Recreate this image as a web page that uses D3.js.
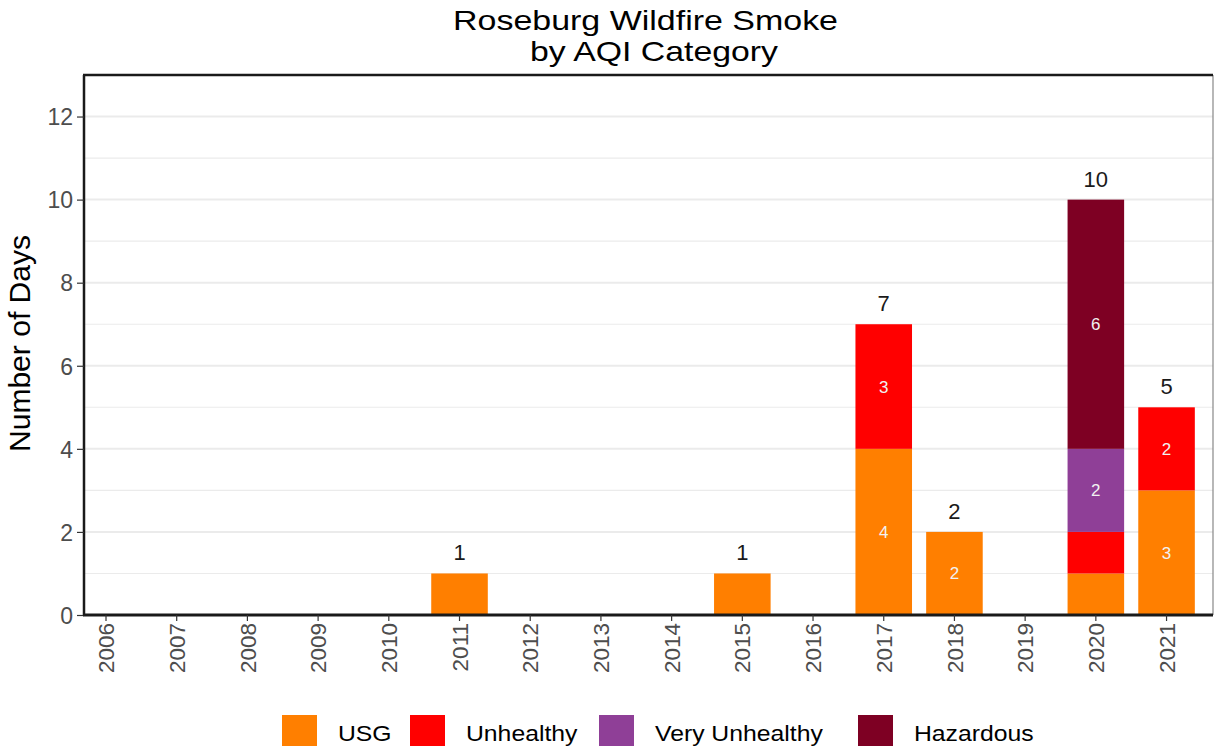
<!DOCTYPE html>
<html><head><meta charset="utf-8">
<script src="https://cdn.jsdelivr.net/npm/d3@7/dist/d3.min.js"></script>
<style>body{margin:0;background:#fff;} svg{display:block;font-family:"Liberation Sans",Arial,sans-serif;}</style>
</head><body>
<script>
const years = ["2006","2007","2008","2009","2010","2011","2012","2013","2014","2015","2016","2017","2018","2019","2020","2021"];
const categories = ["USG","Unhealthy","Very Unhealthy","Hazardous"];
const colors = ["#FF7F00","#FF0000","#8F3F97","#7E0023"];
const usg =           [0,0,0,0,0,1,0,0,0,1,0,4,2,0,1,3];
const unhealthy =     [0,0,0,0,0,0,0,0,0,0,0,3,0,0,1,2];
const veryUnhealthy = [0,0,0,0,0,0,0,0,0,0,0,0,0,0,2,0];
const hazardous =     [0,0,0,0,0,0,0,0,0,0,0,0,0,0,6,0];
const yTicks = [0,2,4,6,8,10,12];

(function(){
const W=1214,H=750;
const svg=d3.select("body").append("svg").attr("width",W).attr("height",H);
const pL=84,pR=1213,pT=75,pB=615;
const FF="Liberation Sans,Arial,sans-serif";
const x=d3.scaleBand().domain(years).range([70.65,1201.9]).paddingInner(0.2).paddingOuter(0.1);
const y=d3.scaleLinear().domain([0,13]).range([pB,pT]);

const table=years.map((yr,i)=>({year:yr,"USG":usg[i],"Unhealthy":unhealthy[i],"Very Unhealthy":veryUnhealthy[i],"Hazardous":hazardous[i]}));
const stack=d3.stack().keys(categories)(table);
const color=d3.scaleOrdinal().domain(categories).range(colors);
const total=d=>categories.reduce((s,k)=>s+d[k],0);

// grid
const g=svg.append("g");
d3.range(1,13,2).forEach(v=>g.append("line").attr("x1",pL).attr("x2",pR).attr("y1",y(v)).attr("y2",y(v)).attr("stroke","#ebebeb").attr("stroke-width",1.1));
yTicks.forEach(v=>g.append("line").attr("x1",pL).attr("x2",pR).attr("y1",y(v)).attr("y2",y(v)).attr("stroke","#ebebeb").attr("stroke-width",2));

// bars
stack.forEach(layer=>{
  svg.append("g").attr("fill",color(layer.key)).selectAll("rect").data(layer.filter(d=>d[1]-d[0]>0)).join("rect")
    .attr("x",d=>x(d.data.year)).attr("width",x.bandwidth())
    .attr("y",d=>y(d[1])).attr("height",d=>y(d[0])-y(d[1]));
});
stack.forEach(layer=>{
  svg.append("g").selectAll("text").data(layer.filter(d=>d[1]-d[0]>1)).join("text")
    .attr("x",d=>x(d.data.year)+x.bandwidth()/2).attr("y",d=>y((d[0]+d[1])/2)+6)
    .attr("text-anchor","middle").attr("fill","#f2f2f2").attr("font-size",17)
    .text(d=>d[1]-d[0]);
});
// totals
svg.append("g").selectAll("text").data(table.filter(d=>total(d)>0)).join("text")
  .attr("x",d=>x(d.year)+x.bandwidth()/2)
  .attr("y",d=>y(total(d))-13)
  .attr("text-anchor","middle").attr("fill","#1a1a1a").attr("font-size",22)
  .text(d=>total(d));

// panel border
svg.append("line").attr("x1",pR).attr("x2",pR).attr("y1",pT).attr("y2",pB).attr("stroke","#888").attr("stroke-width",1.2);
svg.append("line").attr("x1",pL-1).attr("x2",pR).attr("y1",pT).attr("y2",pT).attr("stroke","#1a1a1a").attr("stroke-width",2.5);

// axes
const yAxis=svg.append("g").attr("transform",`translate(${pL},0)`)
  .call(d3.axisLeft(y).tickValues(yTicks).tickSize(7).tickPadding(4));
yAxis.select(".domain").attr("stroke","#1a1a1a").attr("stroke-width",2.5).attr("d",`M0,${pT}V${pB+1}`);
yAxis.selectAll(".tick line").attr("stroke","#333").attr("stroke-width",1.2);
yAxis.selectAll(".tick text").attr("fill","#4d4d4d").attr("font-size",23).attr("font-family",FF).attr("dy","0.36em");

const xAxis=svg.append("g").attr("transform",`translate(0,${pB})`)
  .call(d3.axisBottom(x).tickSize(6).tickPadding(4));
xAxis.select(".domain").attr("stroke","#1a1a1a").attr("stroke-width",3).attr("d",`M${pL-1},0H${pR}`);
xAxis.selectAll(".tick line").attr("stroke","#333").attr("stroke-width",1.2);
xAxis.selectAll(".tick text").attr("fill","#4d4d4d").attr("font-size",22.5).attr("font-family",FF)
  .attr("transform","rotate(-90)").attr("text-anchor","end").attr("x",-8).attr("y",0).attr("dy","0.36em");

// y label
svg.append("text").attr("transform","translate(30,343.5) rotate(-90)").attr("text-anchor","middle").attr("font-size",29)
  .attr("textLength",217).attr("lengthAdjust","spacingAndGlyphs").attr("fill","#000").text("Number of Days");

// title
svg.append("text").attr("x",645.5).attr("y",29.5).attr("text-anchor","middle").attr("font-size",28)
  .attr("textLength",385).attr("lengthAdjust","spacingAndGlyphs").text("Roseburg Wildfire Smoke");
svg.append("text").attr("x",654).attr("y",61).attr("text-anchor","middle").attr("font-size",28)
  .attr("textLength",248).attr("lengthAdjust","spacingAndGlyphs").text("by AQI Category");

// legend
const legX=[282,410,599,858];
const lg=svg.append("g");
categories.forEach((c,i)=>{
  lg.append("rect").attr("x",legX[i]).attr("y",715).attr("width",35).attr("height",31).attr("fill",colors[i]);
  lg.append("text").attr("transform",`translate(${legX[i]+56},740.5) scale(1.1,1)`).attr("font-size",22.5).attr("fill","#000").text(c);
});
})();
</script>
</body></html>
